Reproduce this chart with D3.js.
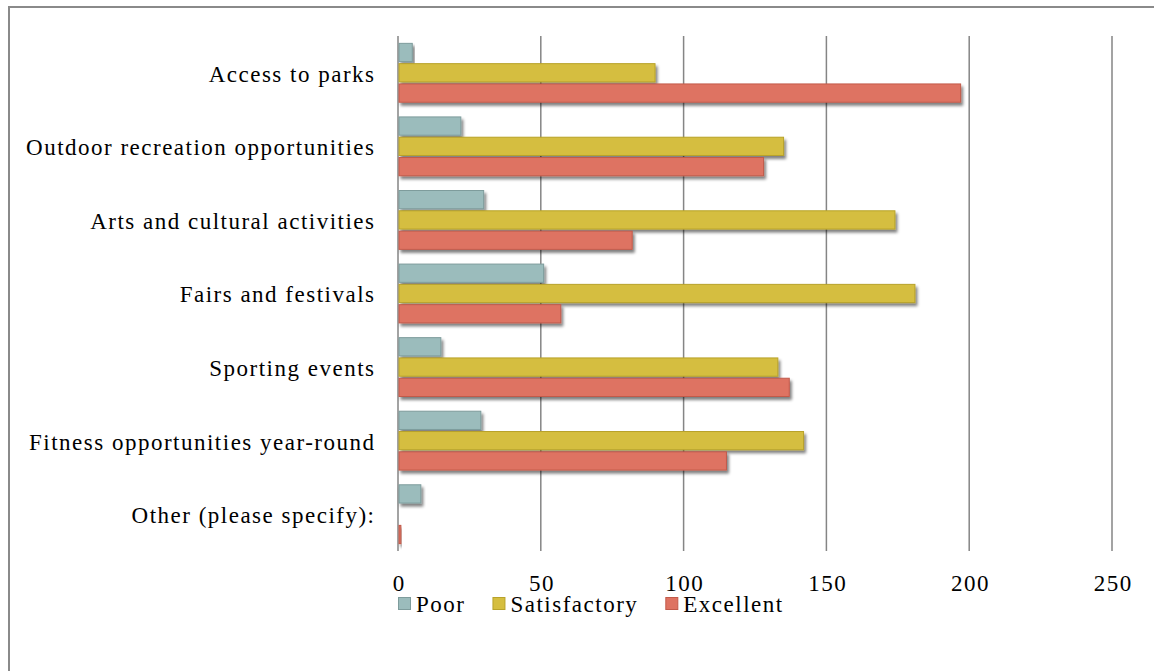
<!DOCTYPE html>
<html><head><meta charset="utf-8">
<script src="https://cdn.jsdelivr.net/npm/d3@7"></script>
<style>
html,body{margin:0;padding:0;background:#fff;}
svg text{font-family:"Liberation Serif","Times New Roman",serif !important;fill:#000;letter-spacing:1.5px;}
</style></head>
<body>
<svg id="chart" width="1154" height="671"></svg>
<script>
const categories = ["Access to parks","Outdoor recreation opportunities","Arts and cultural activities","Fairs and festivals","Sporting events","Fitness opportunities year-round","Other (please specify):"];
const seriesNames = ["Poor","Satisfactory","Excellent"];
const poor = [5, 22, 30, 51, 15, 29, 8];
const satisfactory = [90, 135, 174, 181, 133, 142, 0];
const excellent = [197, 128, 82, 57, 137, 115, 1];
const tickValues = [0, 50, 100, 150, 200, 250];
const colors = ["#9bbcbc", "#d5be3f", "#de7362"];
const strokes = ["#7e9c9c", "#b8a22a", "#c25a4a"];

const seriesData = [poor, satisfactory, excellent];
const svg = d3.select("#chart");
const FONT = "'Liberation Serif','Times New Roman',serif";

// frame
svg.append("path").attr("d","M9,671 V7 H1154").attr("fill","none").attr("stroke","#8a8a8a").attr("stroke-width",2);

const defs = svg.append("defs");
const f = defs.append("filter").attr("id","sh").attr("x","-10%").attr("y","-30%").attr("width","130%").attr("height","180%");
f.append("feGaussianBlur").attr("in","SourceAlpha").attr("stdDeviation",1.8).attr("result","b");
f.append("feOffset").attr("in","b").attr("dx",1.5).attr("dy",2.5).attr("result","o");
f.append("feComponentTransfer").attr("in","o").attr("result","o2").append("feFuncA").attr("type","linear").attr("slope",0.5);
const m = f.append("feMerge"); m.append("feMergeNode").attr("in","o2"); m.append("feMergeNode").attr("in","SourceGraphic");

const x = d3.scaleLinear().domain([0,250]).range([398,1112]);
const y = d3.scaleBand().domain(categories).range([36,551]).paddingInner(0.2).paddingOuter(0.1);
const ys = d3.scaleBand().domain(seriesNames).range([0,y.bandwidth()]).paddingInner(0.1);

// gridlines
svg.append("g").selectAll("line").data(tickValues).join("line")
  .attr("x1",d=>x(d)).attr("x2",d=>x(d)).attr("y1",36).attr("y2",551)
  .attr("stroke","#858585").attr("stroke-width",1.5);

// bars
const g = svg.append("g");
seriesNames.forEach((s,si)=>{
  g.append("g").selectAll("rect").data(categories).join("rect")
    .attr("x",x(0)+1)
    .attr("y",c=>y(c)+ys(s))
    .attr("width",(c,i)=>Math.max(0, x(seriesData[si][i])-x(0)-1))
    .attr("height",ys.bandwidth())
    .attr("fill",colors[si]).attr("stroke",strokes[si]).attr("stroke-width",1)
    .attr("filter","url(#sh)");
});

// category labels
svg.append("g").selectAll("text").data(categories).join("text")
  .attr("x",375.5).attr("y",c=>y(c)+y.bandwidth()/2+1.5)
  .attr("dy","0.32em").attr("text-anchor","end").attr("font-size",23)
  .style("font-family",FONT).text(d=>d);

// x axis tick labels
const axis = d3.axisBottom(x).tickValues(tickValues).tickSize(0).tickPadding(0);
const ag = svg.append("g").attr("transform","translate(0,591)").call(axis);
ag.select(".domain").remove();
ag.attr("font-family",null).attr("font-size",null);
ag.selectAll("text").attr("font-size",23).attr("dy",0).attr("y",0).attr("dx",0.75)
  .style("font-family",FONT).attr("fill","#000");

// legend
const lg = svg.append("g").attr("transform","translate(397,612)");
let cx = 0;
seriesNames.forEach((s,i)=>{
  const it = lg.append("g").attr("transform",`translate(${cx},0)`);
  it.append("rect").attr("x",1.5).attr("y",-14.5).attr("width",12).attr("height",12)
    .attr("fill",colors[i]).attr("stroke",strokes[i]).attr("stroke-width",1);
  const t = it.append("text").attr("x",19).attr("y",0).attr("font-size",23)
    .style("font-family",FONT).text(s);
  const w = t.node().getComputedTextLength();
  cx += 19 + w + 26;
});
</script>
</body></html>
